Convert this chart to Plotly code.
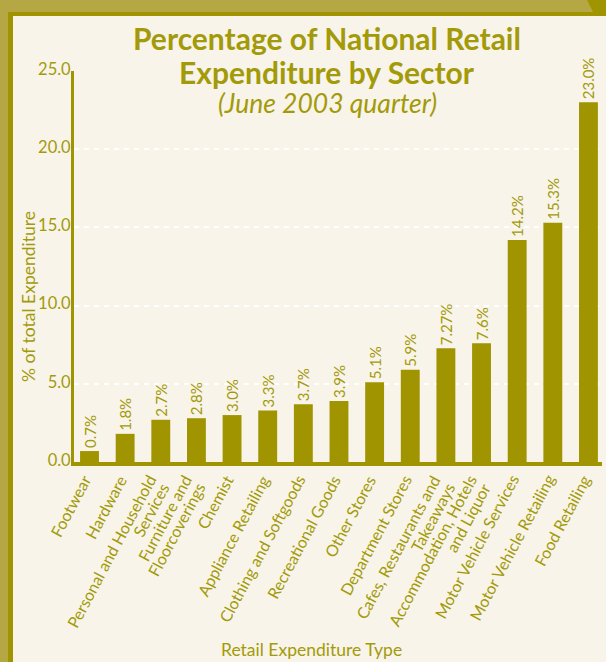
import plotly.graph_objects as go

# Retail sectors (one entry per text line) and their share of national retail expenditure (%)
sectors = [
    ["Footwear"],
    ["Hardware"],
    ["Personal and Household", "Services"],
    ["Furniture and", "Floorcoverings"],
    ["Chemist"],
    ["Appliance Retailing"],
    ["Clothing and Softgoods"],
    ["Recreational Goods"],
    ["Other Stores"],
    ["Department Stores"],
    ["Cafes, Restaurants and", "Takeaways"],
    ["Accommodation, Hotels", "and Liquor"],
    ["Motor Vehicle Services"],
    ["Motor Vehicle Retailing"],
    ["Food Retailing"],
]
shares = [0.7, 1.8, 2.7, 2.8, 3.0, 3.3, 3.7, 3.9, 5.1, 5.9, 7.27, 7.6, 14.2, 15.3, 23.0]
share_labels = ["0.7%", "1.8%", "2.7%", "2.8%", "3.0%", "3.3%", "3.7%", "3.9%",
                "5.1%", "5.9%", "7.27%", "7.6%", "14.2%", "15.3%", "23.0%"]
y_ticks = [0, 5, 10, 15, 20, 25]

W, H = 606, 662
L, R, T, B = 74, 4, 71, 200

OLIVE = "#a09500"
TEXT = "#a39a0a"
CREAM = "#f8f4e9"
BAND = "#b5a844"
FONT = "Lato"


def px_x(x):
    return (x - L) / (W - L - R)


def px_y(y):
    return (H - B - y) / (H - T - B)


positions = list(range(len(sectors)))

fig = go.Figure(
    go.Bar(
        x=positions,
        y=shares,
        marker=dict(color=OLIVE, line=dict(width=0)),
        text=share_labels,
        textposition="outside",
        textangle=-90,
        constraintext="none",
        cliponaxis=False,
        textfont=dict(family=FONT, size=15, color=TEXT),
        hoverinfo="skip",
    )
)

fig.update_layout(
    width=W,
    height=H,
    margin=dict(l=L, r=R, t=T, b=B, pad=0),
    paper_bgcolor=CREAM,
    plot_bgcolor=CREAM,
    showlegend=False,
    bargap=0.47,
    font=dict(family=FONT, color=TEXT),
)

fig.update_xaxes(
    range=[-0.435, 14.38],
    showticklabels=False,
    showgrid=False,
    zeroline=False,
    showline=True,
    linecolor=OLIVE,
    linewidth=4,
    ticks="",
)

fig.update_yaxes(
    range=[0, 25],
    tickmode="array",
    tickvals=y_ticks,
    tickformat=".1f",
    tickfont=dict(family=FONT, size=16.5, color=TEXT),
    ticklabelstandoff=-3,
    ticklabelshift=-2,
    showgrid=True,
    gridcolor="white",
    gridwidth=2,
    griddash="5px,5px",
    zeroline=False,
    showline=True,
    linecolor=OLIVE,
    linewidth=3,
    ticks="",
)

# Category labels: each line is rotated and ends just below its bar,
# wrapped lines are stacked perpendicular to the text direction.
LABEL_ANGLE = -62
LABEL_DX = 7        # horizontal offset of a label's end from the bar centre
LINE_DX, LINE_DY = 14, 8
END_Y = 475         # vertical pixel position of the label ends
ANCHOR_DX, ANCHOR_DY = 1, -6
for pos, lines in zip(positions, sectors):
    n = len(lines)
    for k, line in enumerate(lines):
        dx = LABEL_DX + (k - (n - 1) / 2) * LINE_DX
        fig.add_annotation(
            text=line, xref="x", yref="paper",
            x=pos, y=px_y(END_Y + k * LINE_DY + ANCHOR_DY),
            xshift=dx + ANCHOR_DX,
            xanchor="right", yanchor="top", showarrow=False, textangle=LABEL_ANGLE,
            font=dict(family=FONT, size=16, color=TEXT),
        )

# Decorative frame: light band, dark inner edge and the angled top-right corner
fig.add_shape(type="rect", xref="paper", yref="paper",
              x0=px_x(0), x1=px_x(W), y0=px_y(0), y1=px_y(12),
              fillcolor=BAND, line_width=0, layer="above")
fig.add_shape(type="rect", xref="paper", yref="paper",
              x0=px_x(0), x1=px_x(8), y0=px_y(0), y1=px_y(H),
              fillcolor=BAND, line_width=0, layer="above")
fig.add_shape(type="rect", xref="paper", yref="paper",
              x0=px_x(8), x1=px_x(W), y0=px_y(12), y1=px_y(16),
              fillcolor=OLIVE, line_width=0, layer="above")
fig.add_shape(type="rect", xref="paper", yref="paper",
              x0=px_x(8), x1=px_x(13), y0=px_y(12), y1=px_y(H),
              fillcolor=OLIVE, line_width=0, layer="above")
fig.add_shape(type="path", xref="paper", yref="paper",
              path=(f"M {px_x(587)} {px_y(0)} L {px_x(W)} {px_y(0)} "
                    f"L {px_x(W)} {px_y(12)} L {px_x(593)} {px_y(12)} Z"),
              fillcolor=OLIVE, line_width=0, layer="above")

# Title block
title_lines = [("<b>Percentage of National Retail</b>", 38, 30),
               ("<b>Expenditure by Sector</b>", 72, 30),
               ("<i>(June 2003 quarter)</i>", 103, 26.5)]
for text, yc, size in title_lines:
    fig.add_annotation(
        text=text, xref="paper", yref="paper", x=px_x(327), y=px_y(yc),
        xanchor="center", yanchor="middle", showarrow=False,
        font=dict(family=FONT, size=size, color=TEXT),
    )

# Axis titles
fig.add_annotation(
    text="% of total Expenditure",
    xref="paper", yref="paper", x=px_x(28), y=px_y(297),
    xanchor="center", yanchor="middle", showarrow=False, textangle=-90,
    font=dict(family=FONT, size=17.5, color=TEXT),
)
fig.add_annotation(
    text="Retail Expenditure Type",
    xref="paper", yref="paper", x=px_x(311), y=px_y(649),
    xanchor="center", yanchor="middle", showarrow=False,
    font=dict(family=FONT, size=17.5, color=TEXT),
)

fig.write_html("out.html")
